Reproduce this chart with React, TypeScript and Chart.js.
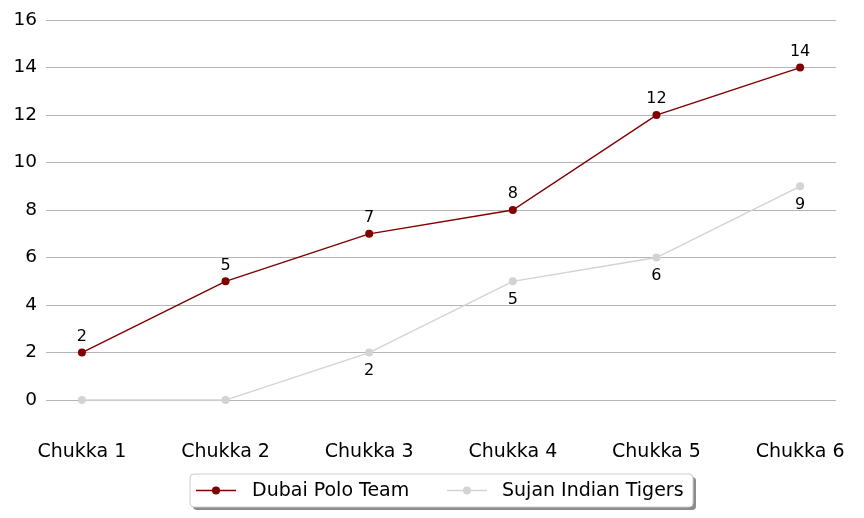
import React, { useEffect, useRef } from "react";
import { Chart, registerables } from "chart.js";

Chart.register(...registerables);

const categories = ["Chukka 1", "Chukka 2", "Chukka 3", "Chukka 4", "Chukka 5", "Chukka 6"];
const dubaiValues = [2, 5, 7, 8, 12, 14];
const sujanValues = [0, 0, 2, 5, 6, 9];
const yTicks = [0, 2, 4, 6, 8, 10, 12, 14, 16];
const seriesNames = ["Dubai Polo Team", "Sujan Indian Tigers"];
const seriesColors = ["#800000", "#d3d3d3"];

const FONT = "'DejaVu Sans', sans-serif";

const labelPlugin = {
  id: "valueLabels",
  afterDatasetsDraw(chart: any) {
    const ctx = chart.ctx;
    ctx.save();
    ctx.font = `16px ${FONT}`;
    ctx.fillStyle = "#000";
    ctx.textAlign = "center";
    chart.data.datasets.forEach((ds: any, di: number) => {
      const meta = chart.getDatasetMeta(di);
      meta.data.forEach((pt: any, i: number) => {
        const v = ds.data[i].y;
        if (di === 1 && v === 0) return;
        if (di === 0) {
          ctx.textBaseline = "bottom";
          ctx.fillText(String(v), pt.x, pt.y - 8);
        } else {
          ctx.textBaseline = "top";
          ctx.fillText(String(v), pt.x, pt.y + 10);
        }
      });
    });
    ctx.restore();
  },
};

const legendPlugin = {
  id: "boxLegend",
  afterDraw(chart: any) {
    const ctx = chart.ctx;
    const x = 190, y = 474, w = 503, h = 33, r = 4;
    ctx.save();
    const rr = (ox: number, oy: number) => {
      ctx.beginPath();
      ctx.moveTo(ox + r, oy);
      ctx.lineTo(ox + w - r, oy);
      ctx.quadraticCurveTo(ox + w, oy, ox + w, oy + r);
      ctx.lineTo(ox + w, oy + h - r);
      ctx.quadraticCurveTo(ox + w, oy + h, ox + w - r, oy + h);
      ctx.lineTo(ox + r, oy + h);
      ctx.quadraticCurveTo(ox, oy + h, ox, oy + h - r);
      ctx.lineTo(ox, oy + r);
      ctx.quadraticCurveTo(ox, oy, ox + r, oy);
      ctx.closePath();
    };
    rr(x + 3, y + 3);
    ctx.fillStyle = "#8c8c8c";
    ctx.fill();
    rr(x, y);
    ctx.fillStyle = "#fff";
    ctx.fill();
    ctx.strokeStyle = "#cccccc";
    ctx.lineWidth = 1;
    ctx.stroke();
    const items = [
      { x0: 196, tx: 252 },
      { x0: 447, tx: 502 },
    ];
    const cy = y + h / 2;
    ctx.font = `19px ${FONT}`;
    ctx.textBaseline = "middle";
    ctx.textAlign = "left";
    chart.data.datasets.forEach((ds: any, i: number) => {
      const it = items[i];
      ctx.strokeStyle = ds.borderColor;
      ctx.lineWidth = 1.5;
      ctx.beginPath();
      ctx.moveTo(it.x0, cy);
      ctx.lineTo(it.x0 + 40, cy);
      ctx.stroke();
      ctx.fillStyle = ds.borderColor;
      ctx.beginPath();
      ctx.arc(it.x0 + 20, cy, 4, 0, Math.PI * 2);
      ctx.fill();
      ctx.fillStyle = "#000";
      ctx.fillText(ds.label, it.tx, cy + 1);
    });
    ctx.restore();
  },
};

export default function App() {
  const ref = useRef<HTMLCanvasElement>(null);
  useEffect(() => {
    if (!ref.current) return;
    const mk = (vals: number[], i: number) => ({
      label: seriesNames[i],
      data: vals.map((v, k) => ({ x: k, y: v })),
      borderColor: seriesColors[i],
      backgroundColor: seriesColors[i],
      borderWidth: 1.5,
      pointRadius: 4,
      pointHoverRadius: 4,
      pointBorderWidth: 0,
      tension: 0,
    });
    const chart = new Chart(ref.current, {
      type: "line",
      data: { datasets: [mk(dubaiValues, 0), mk(sujanValues, 1)] },
      options: {
        animation: false,
        responsive: false,
        maintainAspectRatio: false,
        layout: { padding: { top: 20, right: 28, bottom: 53, left: 0 } },
        plugins: { legend: { display: false }, tooltip: { enabled: false } },
        scales: {
          x: {
            type: "linear",
            min: -0.25,
            max: 5.25,
            afterBuildTicks: (s: any) => {
              s.ticks = categories.map((_, i) => ({ value: i }));
            },
            afterFit: (s: any) => {
              s.height = 34;
            },
            ticks: {
              callback: (v: any) => categories[v] ?? "",
              font: { family: FONT, size: 19 },
              color: "#000",
              padding: 2,
              maxRotation: 0,
              autoSkip: false,
            },
            grid: { display: false },
            border: { display: false },
          },
          y: {
            min: -1.3,
            max: 16,
            afterBuildTicks: (s: any) => {
              s.ticks = yTicks.map((v) => ({ value: v }));
            },
            afterFit: (s: any) => {
              s.width = 46;
            },
            ticks: {
              font: { family: FONT, size: 18.5 },
              color: "#000",
              padding: 9,
            },
            grid: { color: "#b4b4b4", drawTicks: false, lineWidth: 1 },
            border: { display: false },
          },
        },
      },
      plugins: [labelPlugin, legendPlugin],
    });
    return () => chart.destroy();
  }, []);
  return (
    <div style={{ position: "fixed", left: 0, top: 0, width: 864, height: 518, background: "#fff" }}>
      <canvas ref={ref} width={864} height={518} style={{ width: 864, height: 518 }} />
    </div>
  );
}
